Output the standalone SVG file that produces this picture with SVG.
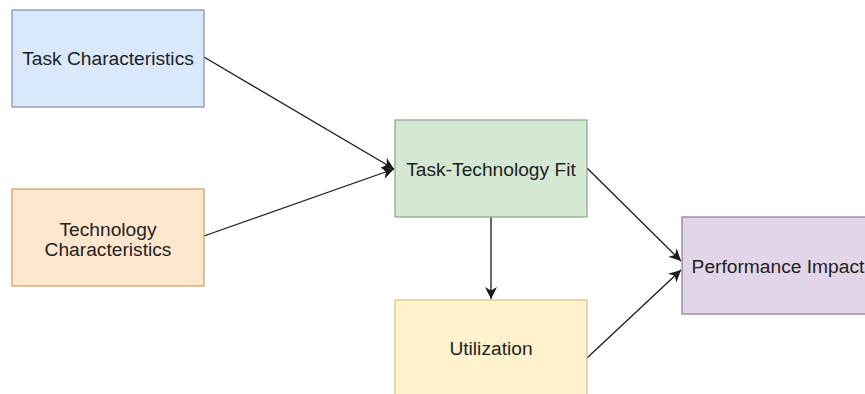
<svg xmlns="http://www.w3.org/2000/svg" width="865" height="394" viewBox="0 0 865 394">
  <style>
    .box { stroke-width: 1.2; }
    .lbl { font-family: "Liberation Sans", Arial, sans-serif; font-size: 19.2px; fill: #222; text-anchor: middle; }
    .edge { fill: none; stroke: #1a1a1a; stroke-width: 1.3; }
  </style>
  <defs>
    <marker id="arrow" markerUnits="userSpaceOnUse" markerWidth="15" markerHeight="14" refX="12" refY="7" orient="auto">
      <path d="M0,1 L12,7 L0,13 L3.5,7 Z" fill="#1a1a1a"/>
    </marker>
  </defs>
  <rect width="865" height="394" fill="#ffffff"/>

  <!-- connectors -->
  <g id="connectors">
    <line class="edge" x1="204" y1="57" x2="394" y2="169" marker-end="url(#arrow)"/>
    <line class="edge" x1="204" y1="236" x2="394" y2="169" marker-end="url(#arrow)"/>
    <line class="edge" x1="491" y1="217" x2="491" y2="299" marker-end="url(#arrow)"/>
    <line class="edge" x1="587" y1="168" x2="681" y2="261" marker-end="url(#arrow)"/>
    <line class="edge" x1="587" y1="358" x2="681" y2="270" marker-end="url(#arrow)"/>
  </g>

  <!-- nodes -->
  <g id="task-characteristics">
    <rect class="box" x="12" y="10" width="192" height="97" fill="#dae8fc" stroke="#7c8fa8"/>
    <text class="lbl" x="108" y="65">Task Characteristics</text>
  </g>
  <g id="technology-characteristics">
    <rect class="box" x="12" y="189" width="192" height="97" fill="#ffe6cc" stroke="#c9a15a"/>
    <text class="lbl" x="108" y="236">Technology</text>
    <text class="lbl" x="108" y="256">Characteristics</text>
  </g>
  <g id="task-technology-fit">
    <rect class="box" x="395" y="120" width="192" height="97" fill="#d5e8d4" stroke="#86a882"/>
    <text class="lbl" x="491" y="176">Task-Technology Fit</text>
  </g>
  <g id="utilization">
    <rect class="box" x="395" y="300" width="192" height="97" fill="#fff2cc" stroke="#d6c27a"/>
    <text class="lbl" x="491" y="355">Utilization</text>
  </g>
  <g id="performance-impact">
    <rect class="box" x="682" y="217" width="192" height="97" fill="#e1d5e7" stroke="#8a7a96"/>
    <text class="lbl" x="778" y="273">Performance Impact</text>
  </g>
</svg>
